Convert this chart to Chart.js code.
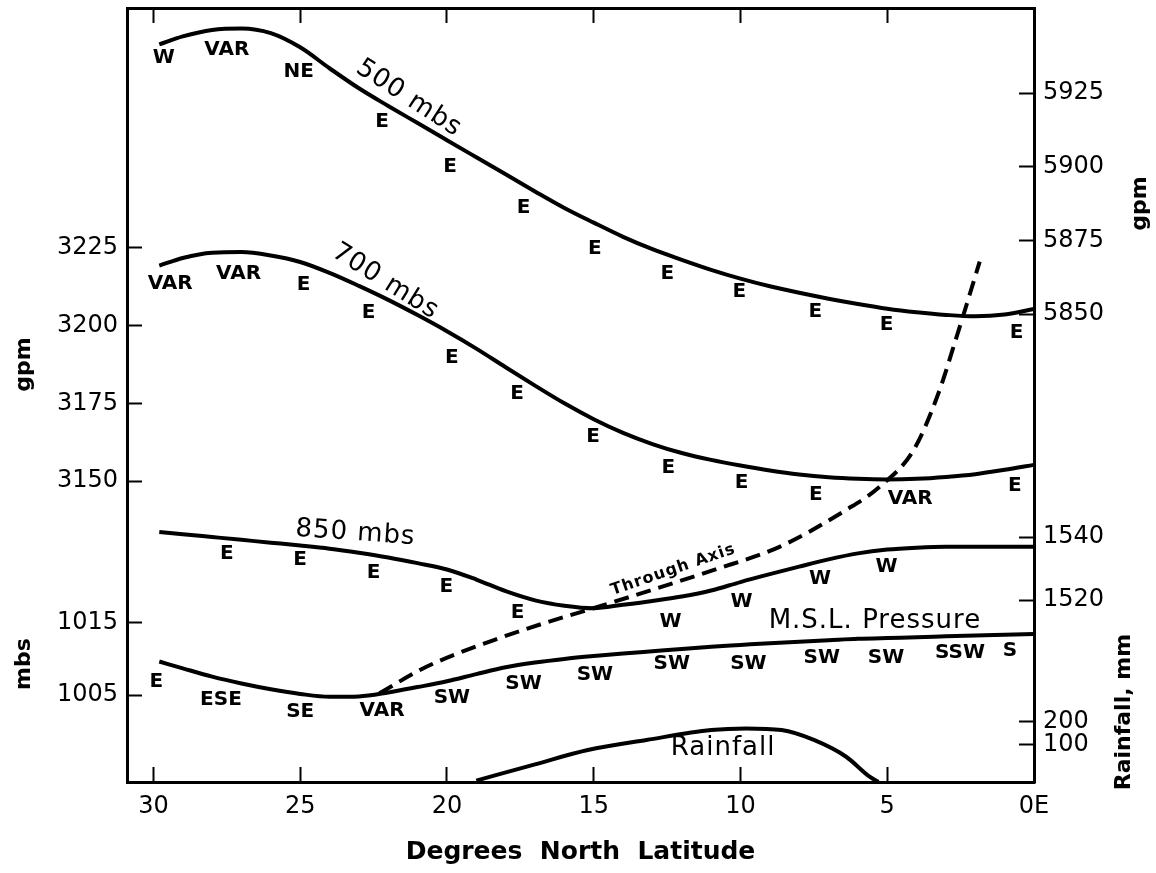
<!DOCTYPE html>
<html lang="en">
<head>
  <meta charset="UTF-8">
  <title>Heights, winds and rainfall by latitude</title>
  <script src="https://cdn.jsdelivr.net/npm/chart.js"></script>
  <style>
    html, body {
      margin: 0;
      padding: 0;
      background: #fff;
    }
    canvas {
      display: block;
    }
  </style>
</head>
<body>
  <canvas id="grafico" width="1156" height="873"></canvas>

  <script>
    // latitudes (deg N) at which the four level curves were read
    const latitude = [29.8, 29, 28, 27, 26, 25, 24, 23, 22, 21, 20, 19, 18, 17, 16, 15,
                      14, 13, 12, 11, 10, 9, 8, 7, 6, 5, 4, 3, 2, 1, 0];
    const height500 = [5941.5, 5944.2, 5946.4, 5946.9, 5945.3, 5940.5, 5933.4, 5926.6, 5920.6, 5914.8,
                       5909, 5903.2, 5897.4, 5891.6, 5886, 5881, 5876.2, 5872, 5868.4, 5865,
                       5862, 5859.4, 5857.2, 5855.2, 5853.4, 5851.8, 5850.6, 5849.7, 5849.2, 5849.8, 5851.7];
    const height700 = [3219.3, 3221.8, 3223.5, 3223.7, 3222.6, 3220.5, 3217, 3212.8, 3208.3, 3203.4,
                       3198.2, 3192.6, 3186.6, 3180.7, 3175, 3169.9, 3165.5, 3161.9, 3159, 3156.8,
                       3155, 3153.4, 3152.1, 3151.2, 3150.7, 3150.5, 3150.7, 3151.3, 3152.2, 3153.6, 3155.2];
    const height850 = [1541.6, 1540.9, 1540, 1539.1, 1538.2, 1537.3, 1536.3, 1535, 1533.5, 1531.7,
                       1529.7, 1526.5, 1522.8, 1519.9, 1518.2, 1517.4, 1518.5, 1519.7, 1521.1, 1523,
                       1525.7, 1528.2, 1530.6, 1532.9, 1534.8, 1536, 1536.6, 1536.9, 1536.9, 1536.9, 1536.9];
    const mslPressure = [1009.65, 1008.7, 1007.55, 1006.6, 1005.8, 1005.15, 1004.75, 1004.8, 1005.35, 1006.1,
                         1006.9, 1007.9, 1008.85, 1009.5, 1010, 1010.4, 1010.75, 1011.07, 1011.4, 1011.7,
                         1011.95, 1012.2, 1012.4, 1012.6, 1012.8, 1012.92, 1013.02, 1013.15, 1013.27, 1013.37, 1013.47];

    const rainLatitude = [19, 17, 15.2, 13.2, 11, 9.8, 8.6, 7.5, 6.4, 5.6, 5.3];
    const rainfall = [-55, 16, 78, 122, 165, 172, 165, 122, 49, -38, -60];

    // trough axis, drawn against the 700 mb gpm scale
    const troughLatitude = [22.3, 20.7, 18.4, 16.7, 15.2, 13.2, 10.9, 8.65, 6.4, 5.25, 4.1, 3.3, 2.6, 1.85];
    const troughHeight = [3081.7, 3090.2, 3098.8, 3104.2, 3108.5, 3114.4, 3121.4, 3128.9, 3140.7, 3148.2,
                          3160, 3177.1, 3197.5, 3220.6];

    const latTicks = [30, 25, 20, 15, 10, 5, 0];
    const gpm700Ticks = [3150, 3175, 3200, 3225];
    const mbsTicks = [1005, 1015];
    const gpm500Ticks = [5850, 5875, 5900, 5925];
    const gpm850Ticks = [1520, 1540];
    const rainTicks = [100, 200];

    // wind directions along each curve: [text, latitude, value]
    const winds500 = [['W', 29.65, 5936.8], ['VAR', 27.5, 5939.8], ['NE', 25.05, 5932.2], ['E', 22.21, 5915.3],
                      ['E', 19.89, 5900], ['E', 17.39, 5885.9], ['E', 14.96, 5872.3], ['E', 12.49, 5863.8],
                      ['E', 10.04, 5857.6], ['E', 7.45, 5850.8], ['E', 5.02, 5846.3], ['E', 0.59, 5843.5]];
    const winds700 = [['VAR', 29.43, 3213.6], ['VAR', 27.1, 3216.6], ['E', 24.88, 3213.1], ['E', 22.67, 3204],
                      ['E', 19.83, 3189.5], ['E', 17.61, 3178.2], ['E', 15.02, 3164.3], ['E', 12.46, 3154.1],
                      ['E', 9.96, 3149.3], ['E', 7.43, 3145.7], ['VAR', 4.22, 3144.4], ['E', 0.65, 3148.4]];
    const winds850 = [['E', 27.5, 1534.6], ['E', 25, 1532.9], ['E', 22.5, 1528.5], ['E', 20.02, 1524.2],
                      ['E', 17.59, 1515.8], ['W', 12.38, 1513.1], ['W', 9.96, 1519.5], ['W', 7.29, 1526.6],
                      ['W', 5.02, 1530.6]];
    const windsSurface = [['E', 29.9, 1006.8], ['ESE', 27.7, 1004.3], ['SE', 25, 1002.6], ['VAR', 22.21, 1002.8],
                          ['SW', 19.83, 1004.6], ['SW', 17.39, 1006.6], ['SW', 14.96, 1007.8], ['SW', 12.34, 1009.4],
                          ['SW', 9.73, 1009.4], ['SW', 7.23, 1010.1], ['SW', 5.04, 1010.2], ['SSW', 2.52, 1010.8],
                          ['S', 0.82, 1011.2]];

    // curve names: [text, latitude, value, axis, angle in degrees]
    const curveNames = [['500 mbs', 21.3, 5923.2, 'yG500', 33], ['700 mbs', 22.1, 3214.2, 'yGpm', 32],
                        ['850 mbs', 23.12, 1541.2, 'y850', 4], ['M.S.L. Pressure', 5.42, 1015.2, 'yMbs', 0],
                        ['Rainfall', 10.59, 85.7, 'yRain', 0]];
    const troughName = ['Through Axis', 12.29, 3121.4, 'yGpm', -19];

    // vertical axis titles: [text, axis, value at its middle, side]
    const axisTitles = [['gpm', 'yGpm', 3187.5, 'left'], ['mbs', 'yMbs', 1009.3, 'left'],
                        ['gpm', 'yG500', 5887.5, 'right'], ['Rainfall, mm', 'yRain', 243, 'right2']];

    const fam = '"DejaVu Sans", sans-serif';
    const graficoEl = document.getElementById('grafico');

    function pontos(xs, ys) {
      return xs.map((x, i) => ({ x, y: ys[i] }));
    }

    function fixos(valores) {
      return scale => { scale.ticks = valores.map(v => ({ value: v })); };
    }

    // fixed box size, and no extra room asked for the end labels
    function tamanho(prop, valor) {
      return s => {
        s[prop] = valor;
        s.paddingTop = s.paddingBottom = s.paddingLeft = s.paddingRight = 0;
      };
    }

    const grade = { drawOnChartArea: false, tickLength: -15, tickWidth: 2, tickColor: '#000' };
    const borda = { color: '#000', width: 3 };
    const fonteTick = { family: fam, size: 24 };

    function eixoY(pos, stack, weight, stackWeight, min, max, valores, largura) {
      return {
        type: 'linear', position: pos, stack, weight, stackWeight, min, max,
        afterBuildTicks: fixos(valores),
        afterFit: tamanho('width', largura),
        grid: grade,
        border: borda,
        ticks: { padding: 24, font: fonteTick, color: '#000', callback: v => String(v) }
      };
    }

    const textos = {
      id: 'textos',
      afterDatasetsDraw(chart) {
        const ctx = chart.ctx;
        const x = chart.scales.x;
        ctx.save();
        ctx.fillStyle = '#000';
        ctx.textAlign = 'center';
        ctx.textBaseline = 'middle';

        function put(text, lat, v, axis, ang, font, espaco) {
          ctx.save();
          ctx.translate(x.getPixelForValue(lat), chart.scales[axis].getPixelForValue(v));
          ctx.rotate(ang * Math.PI / 180);
          ctx.font = font;
          ctx.letterSpacing = espaco || '0px';
          ctx.fillText(text, 0, 0);
          ctx.restore();
        }

        const fw = 'bold 20px ' + fam;
        winds500.forEach(w => put(w[0], w[1], w[2], 'yG500', 0, fw));
        winds700.forEach(w => put(w[0], w[1], w[2], 'yGpm', 0, fw));
        winds850.forEach(w => put(w[0], w[1], w[2], 'y850', 0, fw));
        windsSurface.forEach(w => put(w[0], w[1], w[2], 'yMbs', 0, fw));
        curveNames.forEach(c => put(c[0], c[1], c[2], c[3], c[4], '26px ' + fam, '1px'));
        put(troughName[0], troughName[1], troughName[2], troughName[3], troughName[4],
            'bold 16px ' + fam, '1px');

        axisTitles.forEach(t => {
          const s = chart.scales[t[1]];
          let px;
          if (t[3] === 'left') px = s.left + 24;
          else if (t[3] === 'right') px = s.right - 16;
          else px = s.right - 32;
          ctx.save();
          ctx.translate(px, s.getPixelForValue(t[2]));
          ctx.rotate(-Math.PI / 2);
          ctx.font = 'bold 22px ' + fam;
          ctx.fillText(t[0], 0, 0);
          ctx.restore();
        });
        ctx.restore();
      }
    };

    const linha = {
      borderColor: '#000', borderWidth: 4, pointRadius: 0, fill: false,
      cubicInterpolationMode: 'monotone', clip: false, xAxisID: 'x'
    };

    new Chart(graficoEl, {
      type: 'line',
      data: {
        datasets: [
          { ...linha, label: '500 mbs', data: pontos(latitude, height500), yAxisID: 'yG500' },
          { ...linha, label: '700 mbs', data: pontos(latitude, height700), yAxisID: 'yGpm' },
          { ...linha, label: '850 mbs', data: pontos(latitude, height850), yAxisID: 'y850' },
          { ...linha, label: 'M.S.L. Pressure', data: pontos(latitude, mslPressure), yAxisID: 'yMbs' },
          { ...linha, label: 'Rainfall', data: pontos(rainLatitude, rainfall), yAxisID: 'yRain' },
          { ...linha, label: 'Through Axis', data: pontos(troughLatitude, troughHeight), yAxisID: 'yGpm',
            borderDash: [15, 8] }
        ]
      },
      options: {
        responsive: false,
        animation: false,
        layout: { padding: 0, autoPadding: false },
        plugins: { legend: { display: false }, tooltip: { enabled: false } },
        scales: {
          x: {
            type: 'linear', position: 'bottom', reverse: true, min: 0, max: 30.9,
            afterBuildTicks: fixos(latTicks),
            afterFit: tamanho('height', 91),
            grid: grade,
            border: borda,
            ticks: {
              padding: 25, font: fonteTick, color: '#000', maxRotation: 0, autoSkip: false,
              callback: v => (v === 0 ? '0E' : String(v))
            },
            title: {
              display: true, text: 'Degrees  North  Latitude', color: '#000',
              font: { family: fam, size: 25, weight: 'bold' }, padding: { top: 0, bottom: 6 }
            }
          },
          xTop: {
            type: 'linear', position: 'top', reverse: true, min: 0, max: 30.9,
            afterBuildTicks: fixos(latTicks),
            afterFit: tamanho('height', 8),
            grid: grade,
            border: borda,
            ticks: { display: false }
          },
          yGpm: eixoY('left', 'left', 2, 538, 3129.08, 3302.25, gpm700Ticks, 127),
          yMbs: eixoY('left', 'left', 1, 236, 992.92, 1025.69, mbsTicks, 127),
          yG500: eixoY('right', 'right', 0, 395, 5819.8, 5953.85, gpm500Ticks, 122),
          y850: eixoY('right', 'right', 1, 239, 1506.67, 1582.54, gpm850Ticks, 122),
          yRain: eixoY('right', 'right', 2, 140, -60.87, 547.8, rainTicks, 122)
        }
      },
      plugins: [textos]
    });
  </script>
</body>
</html>
